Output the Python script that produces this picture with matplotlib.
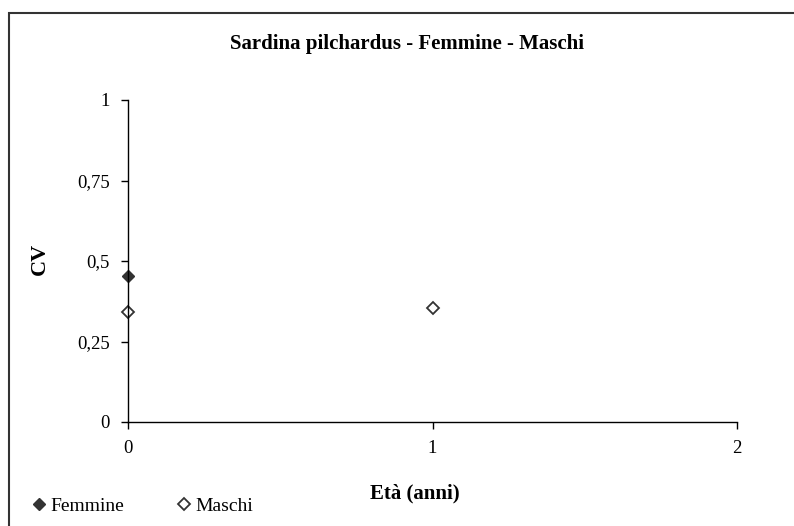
import matplotlib.pyplot as plt
from matplotlib.patches import Rectangle

# CV per classe di età
eta_femmine = [0]
cv_femmine = [0.454]
eta_maschi = [0, 1]
cv_maschi = [0.343, 0.353]

y_ticks = [0, 0.25, 0.5, 0.75, 1]
y_labels = ["0", "0,25", "0,5", "0,75", "1"]
x_ticks = [0, 1, 2]

plt.rcParams['font.family'] = ['Liberation Serif', 'DejaVu Serif']

fig = plt.figure(figsize=(7.94, 5.26), dpi=100)
ax = fig.add_axes([128/794, 104/526, 609/794, 322/526])

ax.plot(eta_femmine, cv_femmine, "D", color="#333333", markersize=6, clip_on=False,
        label="Femmine")
ax.plot(eta_maschi, cv_maschi, "D", markerfacecolor="white", markeredgecolor="#333333",
        markeredgewidth=1.3, markersize=6, clip_on=False, label="Maschi")

ax.set_xlim(0, 2)
ax.set_ylim(0, 1)
ax.set_xticks(x_ticks)
ax.set_xticklabels([str(v) for v in x_ticks])
ax.set_yticks(y_ticks)
ax.set_yticklabels(y_labels)
ax.tick_params(direction="out", length=5, width=1, labelsize=13.5, pad=8)
for s in ["top", "right"]:
    ax.spines[s].set_visible(False)
for s in ["left", "bottom"]:
    ax.spines[s].set_linewidth(1)

fig.text(407/794, 1 - 44/526, "Sardina pilchardus - Femmine - Maschi", ha="center",
         va="center", fontsize=15, fontweight="bold")
fig.text(415/794, 1 - 493/526, "Età (anni)", ha="center", va="center",
         fontsize=15, fontweight="bold")
fig.text(40/794, 1 - 259/526, "CV", ha="center", va="center", rotation=90,
         fontsize=16, fontweight="bold")

fig.legend(loc="center left", bbox_to_anchor=(10/794, 1 - 506/526), ncol=2, frameon=False,
           fontsize=14, handletextpad=0.0, columnspacing=2.45, handlelength=1.2)

# cornice dell'area del grafico
fig.patches.append(Rectangle((9/794, -0.05), 1.0, 1 - 13/526 + 0.05, transform=fig.transFigure,
                             fill=False, edgecolor="#333333", linewidth=1.5))

fig.savefig("out.png", dpi=100)
